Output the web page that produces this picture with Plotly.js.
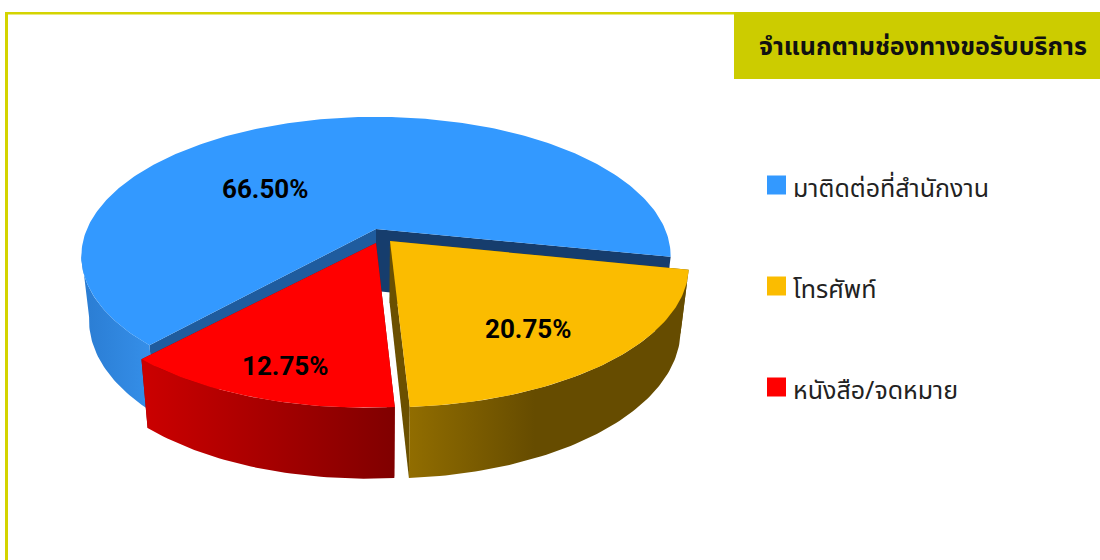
<!DOCTYPE html>
<html><head><meta charset="utf-8">
<script src="https://cdn.plot.ly/plotly-3.0.1.min.js"></script>
<style>html,body{margin:0;padding:0;background:#fff}#c{width:1100px;height:560px}</style></head>
<body><div id="c"></div>
<script>
const categories = ['มาติดต่อที่สำนักงาน','โทรศัพท์','หนังสือ/จดหมาย'];
const values = [66.50, 20.75, 12.75];
const colors = ['#3399ff','#fbbc00','#ff0000'];
const chartTitle = 'จำแนกตามช่องทางขอรับบริการ';

// style of the pseudo-3D view
const CX=376, CY=229, R=289, B=134, K=0.195, START=132.1;
const rimShiftStart = [[0,0],[18,13],[-5,12]];
const rimShiftEnd   = [[0,0],[10,12],[-8,14]];
const apexShift = [[0,0],[14,12],[0,14]];
const wallGrad = [
  [[0,'#2a7cd2'],[1,'#3690ea']],
  [[0,'#916d00'],[0.45,'#664c00'],[1,'#664c00']],
  [[0,'#cc0000'],[1,'#800000']]
];
const innerWall = [['#1f5c9e','#163d6d'],['#6b5000','#6b5000'],['#8a0000','#8a0000']];
const labelPos = [[265,189],[528,329],[285,366]];
const swatchY = [185,286,387];

function proj(aDeg,r,sh){
  const a=aDeg*Math.PI/180,c=Math.cos(a)*r,s=Math.sin(a)*r,d=1-K*s;
  return {x:CX+R*c/d+sh[0],y:CY+B*s/d+sh[1],s:s};
}
function down(p){ // the same point on the lower face of the disc
  return {x:CX+(p.x-CX)*0.974,y:p.y+62+9*p.s};
}
function arc(a0,a1,s0,s1){const o=[];const n=Math.max(8,Math.ceil(Math.abs(a1-a0)));
  for(let i=0;i<=n;i++){const t=i/n;
    o.push(proj(a0+(a1-a0)*t,1,[s0[0]+(s1[0]-s0[0])*t,s0[1]+(s1[1]-s0[1])*t]));}
  return o;}
function poly(pts,color,extra){
  return Object.assign({type:'scatter',mode:'lines',x:pts.map(p=>p.x),y:pts.map(p=>p.y),
    fill:'toself',fillcolor:color,line:{width:0,color:color},hoverinfo:'skip',showlegend:false},extra||{});
}
const traces=[];
let ang=START;
values.forEach((v,i)=>{
  const a0=ang,a1=ang+v*3.6;ang=a1;
  const apex=proj(0,0,apexShift[i]);
  const rim=arc(a0,a1,rimShiftStart[i],rimShiftEnd[i]);
  const first=rim[0],last=rim[rim.length-1];
  // inner walls
  traces.push(poly([apex,first,down(first),down(apex)],innerWall[i][0]));
  traces.push(poly([apex,last,down(last),down(apex)],innerWall[i][1]));
  // outer wall: only the part that faces the viewer
  const front=i===0?arc(a0,170,rimShiftStart[i],rimShiftEnd[i]):rim;
  const wall=front.concat(front.slice().reverse().map(down));
  const xs=wall.map(p=>p.x);
  traces.push(poly(wall,'rgba(0,0,0,0)',{fillcolor:undefined,fillgradient:{type:'horizontal',
    colorscale:wallGrad[i],start:Math.min(...xs),stop:Math.max(...xs)}}));
  // top face
  traces.push(poly([apex].concat(rim),colors[i]));
});
// swatches
traces.push({type:'scatter',mode:'markers',x:categories.map(()=>776.5),y:swatchY,hoverinfo:'skip',showlegend:false,
  marker:{symbol:'square',size:19,color:colors,line:{width:0}}});

const thai='"Noto Sans Thai","Noto Sans","Liberation Sans",sans-serif';
const ann=[];
values.forEach((v,i)=>{
  ann.push({xref:'x',yref:'y',x:labelPos[i][0],y:labelPos[i][1],text:'<b>'+v.toFixed(2)+'%</b>',showarrow:false,
    font:{family:'Roboto,sans-serif',size:26,color:'#000'}});
  ann.push({xref:'x',yref:'y',x:791,y:swatchY[i]+4,xanchor:'left',text:categories[i],showarrow:false,
    font:{family:thai,size:25,color:'#222'}});
});
ann.push({xref:'x',yref:'y',x:1089,y:47,xanchor:'right',text:'<b>'+chartTitle+'</b>',showarrow:false,
  font:{family:thai,size:25,color:'#111'}});

const line='#d4d400';
const layout={width:1100,height:560,margin:{l:0,r:0,t:0,b:0},paper_bgcolor:'#fff',plot_bgcolor:'#fff',
  xaxis:{range:[0,1100],visible:false,fixedrange:true},
  yaxis:{range:[560,0],visible:false,fixedrange:true},
  showlegend:false,annotations:ann,
  shapes:[
    {type:'rect',xref:'x',yref:'y',x0:5,x1:8,y0:12,y1:560,fillcolor:line,line:{width:0},layer:'below'},
    {type:'rect',xref:'x',yref:'y',x0:5,x1:734,y0:12,y1:14.5,fillcolor:line,line:{width:0},layer:'below'},
    {type:'rect',xref:'x',yref:'y',x0:734,x1:1100,y0:12,y1:79,fillcolor:'#cccc00',line:{width:0},layer:'below'}
  ]};
Plotly.newPlot('c',traces,layout,{displayModeBar:false,staticPlot:true});
</script></body></html>
